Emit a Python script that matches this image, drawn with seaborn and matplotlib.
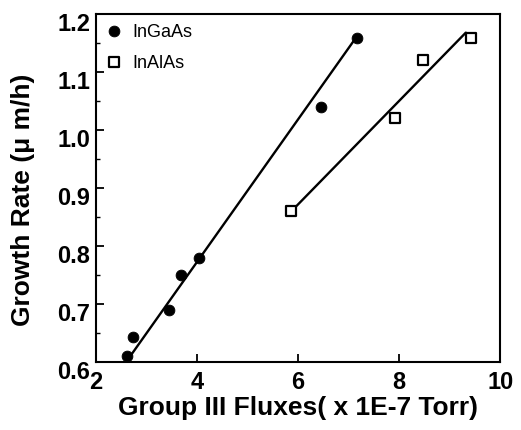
import numpy as np
import pandas as pd
import matplotlib
matplotlib.use('Agg')
import matplotlib.pyplot as plt
from matplotlib.ticker import MultipleLocator, FormatStrFormatter
from matplotlib.transforms import ScaledTranslation
import seaborn as sns

# valores
flux_ingaas = [2.62, 2.73, 3.45, 3.68, 4.04, 6.45, 7.16]
rate_ingaas = [0.611, 0.643, 0.69, 0.75, 0.779, 1.04, 1.159]

flux_inalas = [5.87, 7.91, 8.48, 9.43]
rate_inalas = [0.86, 1.021, 1.12, 1.158]

# retas de ajuste desenhadas na figura (pontas)
reta_ingaas_x = [2.60, 7.12]
reta_ingaas_y = [0.60, 1.156]
reta_inalas_x = [5.87, 9.32]
reta_inalas_y = [0.86, 1.168]

sns.set_style('ticks', {'axes.edgecolor': 'black', 'text.color': 'black',
                        'axes.labelcolor': 'black', 'xtick.color': 'black',
                        'ytick.color': 'black'})
plt.rcParams['font.family'] = ['Liberation Sans', 'DejaVu Sans']

fig = plt.figure(figsize=(5.21, 4.31), dpi=100)
ax = fig.add_axes([0.184, 0.158, 0.776, 0.807])

dados1 = pd.DataFrame({'x': flux_ingaas, 'y': rate_ingaas})
dados2 = pd.DataFrame({'x': flux_inalas, 'y': rate_inalas})

sns.lineplot(x=reta_ingaas_x, y=reta_ingaas_y, ax=ax, color='black', lw=1.7)
sns.lineplot(x=reta_inalas_x, y=reta_inalas_y, ax=ax, color='black', lw=1.7)

# pontos
sns.scatterplot(data=dados1, x='x', y='y', ax=ax, marker='o', color='black',
                s=60, edgecolor='black', label='InGaAs', zorder=5)
sns.scatterplot(data=dados2, x='x', y='y', ax=ax, marker='s', facecolor='white',
                s=50, edgecolor='black', linewidth=1.6, label='InAlAs', zorder=5)

ax.set_xlim(2, 10)
ax.set_ylim(0.6, 1.2)
ax.xaxis.set_major_locator(MultipleLocator(2))
ax.yaxis.set_major_locator(MultipleLocator(0.1))
ax.yaxis.set_minor_locator(MultipleLocator(0.05))
ax.yaxis.set_major_formatter(FormatStrFormatter('%.1f'))

ax.tick_params(direction='in', which='major', length=6, width=1.3,
               labelsize=17, pad=4, colors='black')
ax.tick_params(axis='x', which='major', pad=6)
ax.tick_params(direction='in', which='minor', length=3, width=1, colors='black')

# rotulos do eixo y ficam um pouco mais baixos no original
desloca = ScaledTranslation(0, -5 / 72, fig.dpi_scale_trans)
for t in ax.get_yticklabels():
    t.set_transform(t.get_transform() + desloca)
for t in ax.get_xticklabels() + ax.get_yticklabels():
    t.set_fontweight('bold')

for lado in ax.spines.values():
    lado.set_linewidth(1.5)
    lado.set_color('black')

ax.set_xlabel('Group III Fluxes( x 1E-7 Torr)', fontsize=19, fontweight='bold',
              labelpad=1, color='black')
ax.set_ylabel('Growth Rate (μ m/h)', fontsize=19, fontweight='bold', color='black')
ax.yaxis.set_label_coords(-0.15, 0.47)

leg = ax.legend(loc='upper left', frameon=False, fontsize=13, handletextpad=0.5,
                borderaxespad=0.2, labelspacing=0.75, handlelength=1.0,
                borderpad=0.3)
for t in leg.get_texts():
    t.set_color('black')

fig.savefig('out.png', dpi=100)
